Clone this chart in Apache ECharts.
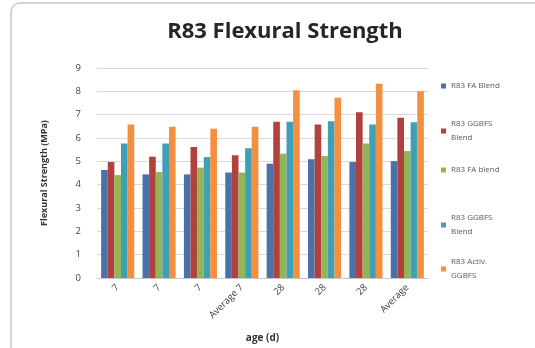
<!DOCTYPE html>
<html>
<head>
<meta charset="utf-8">
<script src="https://cdn.jsdelivr.net/npm/echarts@6/dist/echarts.min.js"></script>
<style>
  html, body { margin: 0; padding: 0; background: #ffffff; }
  #chart { width: 535px; height: 348px; }
</style>
</head>
<body>
<div id="chart"></div>
<script>
// Test ages (days) along the x axis
const categories = ['7', '7', '7', 'Average 7', '28', '28', '28', 'Average'];

// Flexural strength, MPa
const faBlendA     = [4.63, 4.44, 4.44, 4.52, 4.90, 5.09, 4.97, 5.01];
const ggbfsBlendA  = [4.97, 5.20, 5.61, 5.26, 6.70, 6.58, 7.10, 6.87];
const faBlendB     = [4.41, 4.54, 4.73, 4.52, 5.33, 5.23, 5.76, 5.44];
const ggbfsBlendB  = [5.76, 5.76, 5.18, 5.56, 6.70, 6.72, 6.58, 6.68];
const activGgbfs   = [6.58, 6.48, 6.40, 6.48, 8.05, 7.72, 8.32, 8.00];

const seriesLabels = ['R83 FA Blend', 'R83 GGBFS\nBlend', 'R83 FA blend', 'R83 GGBFS\nBlend', 'R83 Activ.\nGGBFS'];
const seriesValues = [faBlendA, ggbfsBlendA, faBlendB, ggbfsBlendB, activGgbfs];
const colors = ['#4a72a8', '#b0413e', '#94b556', '#3f9fb5', '#f38f3f'];

const yTicks = { min: 0, max: 9, interval: 1 };

const chart = echarts.init(document.getElementById('chart'), null, { renderer: 'canvas' });

// one legend per entry so each can sit at its own height
const legendTops = [71, 109, 155, 203, 247];
const keys = seriesLabels.map((_, i) => 's' + i);

const legends = keys.map((k, i) => ({
  data: [k],
  orient: 'vertical',
  left: 436,
  top: legendTops[i],
  itemWidth: 5,
  itemHeight: 5,
  itemGap: 4,
  icon: 'rect',
  selectedMode: false,
  formatter: () => seriesLabels[i],
  textStyle: { fontSize: 8, color: '#595959', fontFamily: 'Open Sans', lineHeight: 14, padding: [6, 0, 0, 0] },
  itemStyle: { borderWidth: 0 }
}));

chart.setOption({
  animation: false,
  backgroundColor: '#ffffff',
  color: colors,
  graphic: [{
    type: 'rect',
    shape: { x: 11, y: 3, width: 600, height: 420, r: 9 },
    style: { fill: 'none', stroke: '#d4d4d4', lineWidth: 2 },
    z: -1
  }],
  title: {
    text: 'R83 Flexural Strength',
    left: 280,
    top: 16,
    textAlign: 'center',
    textStyle: { fontSize: 22, fontWeight: 'bold', color: '#262626', fontFamily: 'Open Sans' }
  },
  legend: legends,
  grid: { left: 97, right: 107, top: 68, bottom: 69 },
  xAxis: {
    type: 'category',
    data: categories,
    name: 'age (d)',
    nameLocation: 'middle',
    nameGap: 55,
    nameTextStyle: { fontSize: 10, fontWeight: 'bold', color: '#333', fontFamily: 'Open Sans' },
    axisLine: { lineStyle: { color: '#c8c8c8' } },
    axisTick: { show: false },
    axisLabel: { rotate: 45, fontSize: 9.5, color: '#404040', fontFamily: 'Open Sans', margin: 8 }
  },
  yAxis: {
    type: 'value',
    min: yTicks.min,
    max: yTicks.max,
    interval: yTicks.interval,
    name: 'Flexural Strength (MPa)',
    nameLocation: 'middle',
    nameGap: 48,
    nameTextStyle: { fontSize: 9, fontWeight: 'bold', color: '#333', fontFamily: 'Open Sans' },
    axisLine: { show: false },
    axisTick: { show: false },
    axisLabel: { fontSize: 9.5, color: '#404040', fontFamily: 'Open Sans', margin: 16 },
    splitLine: { lineStyle: { color: '#d9d9d9' } }
  },
  series: seriesValues.map((vals, i) => ({
    name: keys[i],
    type: 'bar',
    data: vals,
    barGap: '0%',
    barCategoryGap: '20%',
    itemStyle: { color: colors[i] }
  }))
});
</script>
</body>
</html>
